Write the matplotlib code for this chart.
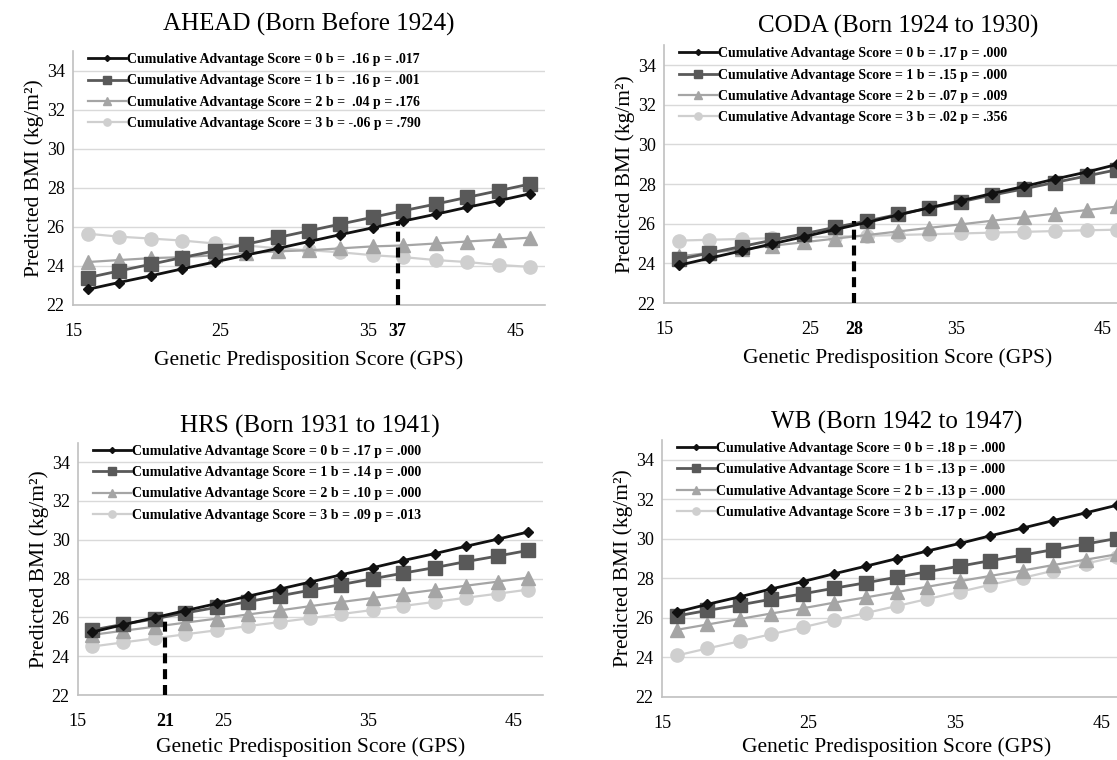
import numpy as np
import matplotlib
matplotlib.use("Agg")
import matplotlib.pyplot as plt

plt.rcParams['font.family'] = ['Liberation Serif', 'DejaVu Serif']

# GPS values at which predictions were plotted
gps = [16.0, 18.1, 20.3, 22.4, 24.6, 26.7, 28.9, 31.0, 33.1, 35.3, 37.4, 39.6, 41.7, 43.9, 46.0]

titles = ['AHEAD (Born Before 1924)', 'CODA (Born 1924 to 1930)',
          'HRS (Born 1931 to 1941)', 'WB (Born 1942 to 1947)']

# predicted BMI by cumulative advantage score (0..3)
ahead_0 = [22.8, 23.15, 23.5, 23.85, 24.2, 24.55, 24.9, 25.25, 25.6, 25.95, 26.3, 26.65, 27.0, 27.35, 27.7]
ahead_1 = [23.4, 23.74, 24.09, 24.43, 24.77, 25.11, 25.46, 25.8, 26.14, 26.49, 26.83, 27.17, 27.51, 27.86, 28.2]
ahead_2 = [24.2, 24.3, 24.4, 24.45, 24.55, 24.65, 24.75, 24.8, 24.9, 25.0, 25.05, 25.15, 25.25, 25.35, 25.45]
ahead_3 = [25.65, 25.5, 25.4, 25.3, 25.15, 25.05, 24.9, 24.8, 24.7, 24.55, 24.45, 24.3, 24.2, 24.05, 23.95]

coda_0 = [23.9, 24.26, 24.63, 24.99, 25.35, 25.71, 26.07, 26.44, 26.8, 27.16, 27.52, 27.88, 28.25, 28.61, 29.0]
coda_1 = [24.2, 24.52, 24.85, 25.17, 25.5, 25.82, 26.14, 26.47, 26.79, 27.11, 27.44, 27.76, 28.08, 28.41, 28.73]
coda_2 = [24.35, 24.53, 24.71, 24.89, 25.07, 25.25, 25.43, 25.61, 25.79, 25.97, 26.15, 26.33, 26.51, 26.69, 26.87]
coda_3 = [25.15, 25.19, 25.23, 25.27, 25.31, 25.35, 25.39, 25.43, 25.47, 25.51, 25.55, 25.59, 25.63, 25.67, 25.7]

hrs_0 = [25.25, 25.62, 25.99, 26.35, 26.72, 27.09, 27.46, 27.82, 28.19, 28.56, 28.93, 29.29, 29.66, 30.03, 30.4]
hrs_1 = [25.35, 25.64, 25.93, 26.23, 26.52, 26.81, 27.11, 27.4, 27.69, 27.99, 28.28, 28.57, 28.87, 29.16, 29.45]
hrs_2 = [25.1, 25.31, 25.52, 25.73, 25.94, 26.15, 26.36, 26.58, 26.79, 27.0, 27.21, 27.42, 27.63, 27.84, 28.05]
hrs_3 = [24.5, 24.71, 24.92, 25.13, 25.34, 25.55, 25.76, 25.96, 26.17, 26.38, 26.59, 26.8, 27.01, 27.22, 27.43]

wb_0 = [26.3, 26.69, 27.07, 27.46, 27.84, 28.23, 28.62, 29.0, 29.39, 29.77, 30.16, 30.55, 30.93, 31.32, 31.7]
wb_1 = [26.1, 26.38, 26.66, 26.94, 27.22, 27.5, 27.78, 28.06, 28.34, 28.62, 28.9, 29.18, 29.46, 29.74, 30.02]
wb_2 = [25.4, 25.67, 25.95, 26.22, 26.49, 26.77, 27.04, 27.31, 27.58, 27.86, 28.13, 28.4, 28.68, 28.95, 29.22]
wb_3 = [24.1, 24.46, 24.82, 25.17, 25.53, 25.89, 26.25, 26.6, 26.96, 27.32, 27.68, 28.03, 28.39, 28.75, 29.1]

legend_labels = [
    ['Cumulative Advantage Score = 0 b =  .16 p = .017',
     'Cumulative Advantage Score = 1 b =  .16 p = .001',
     'Cumulative Advantage Score = 2 b =  .04 p = .176',
     'Cumulative Advantage Score = 3 b = -.06 p = .790'],
    ['Cumulative Advantage Score = 0 b = .17 p = .000',
     'Cumulative Advantage Score = 1 b = .15 p = .000',
     'Cumulative Advantage Score = 2 b = .07 p = .009',
     'Cumulative Advantage Score = 3 b = .02 p = .356'],
    ['Cumulative Advantage Score = 0 b = .17 p = .000',
     'Cumulative Advantage Score = 1 b = .14 p = .000',
     'Cumulative Advantage Score = 2 b = .10 p = .000',
     'Cumulative Advantage Score = 3 b = .09 p = .013'],
    ['Cumulative Advantage Score = 0 b = .18 p = .000',
     'Cumulative Advantage Score = 1 b = .13 p = .000',
     'Cumulative Advantage Score = 2 b = .13 p = .000',
     'Cumulative Advantage Score = 3 b = .17 p = .002'],
]

# crossover GPS marked with dashed line (None = no marker)
cross_gps = [37, 28, 21, None]
cross_bmi = [26.25, 26.15, 25.95, None]

series = [[ahead_0, ahead_1, ahead_2, ahead_3],
          [coda_0, coda_1, coda_2, coda_3],
          [hrs_0, hrs_1, hrs_2, hrs_3],
          [wb_0, wb_1, wb_2, wb_3]]

colors = ['#111111', '#595959', '#a5a5a5', '#cfcfcf']
markers = ['D', 's', '^', 'o']
msizes = [5.5, 9.5, 9.5, 9.5]
lwidths = [2.0, 2.0, 1.6, 1.6]

# axes rectangles in figure fractions
rects = [[0.0654, 0.5987, 0.4226, 0.334],
         [0.5945, 0.6013, 0.419, 0.339],
         [0.0698, 0.0855, 0.416, 0.332],
         [0.5927, 0.0829, 0.42, 0.338]]
title_pads = [14.5, 9.5, 7, 8]
xlabel_pads = [7.5, 7.5, 5, 4]

fig = plt.figure(figsize=(11.17, 7.6), dpi=100)

for k in range(4):
    ax = fig.add_axes(rects[k])
    for i in range(4):
        ax.plot(gps, series[k][i], color=colors[i], marker=markers[i],
                markersize=msizes[i], linewidth=lwidths[i],
                label=legend_labels[k][i], zorder=5 - i)
    ax.set_xlim(15, 47)
    ax.set_ylim(22, 35)
    ticks = [15, 25, 35, 45]
    if cross_gps[k] is not None:
        ticks = sorted(ticks + [cross_gps[k]])
        ax.plot([cross_gps[k], cross_gps[k]], [22, cross_bmi[k]], color='black',
                linewidth=3, dashes=(2.4, 1.4), zorder=6, clip_on=False)
    ax.set_xticks(ticks)
    ax.set_xticklabels([str(t) for t in ticks])
    for lab, t in zip(ax.get_xticklabels(), ticks):
        if t == cross_gps[k]:
            lab.set_fontweight('bold')
    ax.set_yticks([22, 24, 26, 28, 30, 32, 34])
    ax.tick_params(length=0, labelsize=13)
    ax.tick_params(axis='x', pad=13)
    ax.tick_params(axis='y', pad=6)
    ax.grid(axis='y', color='#d9d9d9', linewidth=1)
    ax.set_axisbelow(True)
    for s in ['top', 'right']:
        ax.spines[s].set_visible(False)
    for s in ['left', 'bottom']:
        ax.spines[s].set_color('#c0c0c0')
        ax.spines[s].set_linewidth(1.2)
    ax.set_title(titles[k], fontsize=18, pad=title_pads[k])
    ax.set_xlabel('Genetic Predisposition Score (GPS)', fontsize=15.5, labelpad=xlabel_pads[k])
    ax.set_ylabel('Predicted BMI (kg/m²)', fontsize=15.5, labelpad=2)
    ax.legend(loc='upper left', bbox_to_anchor=(0.015, 1.025), frameon=False,
              prop={'size': 10, 'weight': 'bold'}, labelspacing=0.6,
              handlelength=2.7, handletextpad=0.1, markerscale=0.55,
              borderaxespad=0.2)

fig.savefig('out.png', dpi=100)
